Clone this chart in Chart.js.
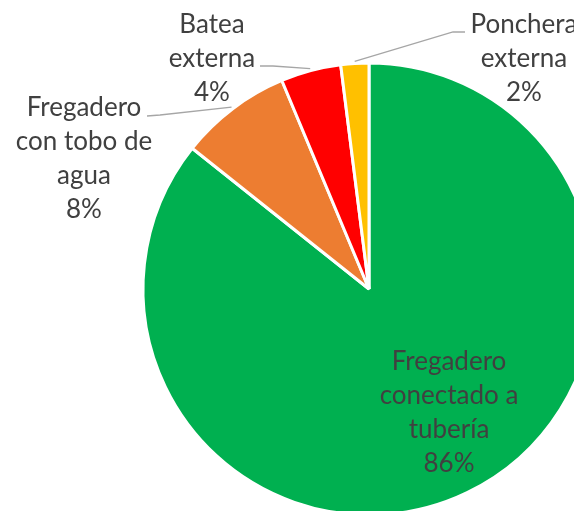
<!DOCTYPE html>
<html>
<head>
<meta charset="utf-8">
<script src="https://cdn.jsdelivr.net/npm/chart.js@4.4.1/dist/chart.umd.min.js"></script>
<style>
html, body { margin: 0; padding: 0; background: #ffffff; overflow: hidden; width: 574px; height: 511px; }
#wrap { position: absolute; left: 0; top: 0; width: 738px; height: 578px; }
</style>
</head>
<body>
<div id="wrap"><canvas id="c" width="738" height="578"></canvas></div>
<script>
// Data
const categories = [
  ["Fregadero", "conectado a", "tubería"],
  ["Fregadero", "con tobo de", "agua"],
  ["Batea", "externa"],
  ["Ponchera", "externa"]
];
const values = [85.7, 8.0, 4.3, 2.0];
const colors = ["#00B050", "#ED7D31", "#FF0000", "#FFC000"];

// Label layout (text block centers, first line) and leader line elbows
const labelLayout = [
  { x: 449, y: 362, inside: true },
  { x: 84, y: 108, elbow: [[147, 116], [160, 115]] },
  { x: 212, y: 25, elbow: [[260, 66], [273, 66]] },
  { x: 524, y: 25, elbow: [[465, 32], [453, 32]] }
];
const lineHeight = 34;
const fontSpec = '26px Lato, "Open Sans", sans-serif';

const total = values.reduce((a, b) => a + b, 0);

const labelPlugin = {
  id: 'pieLabels',
  afterDatasetsDraw(chart) {
    const ctx = chart.ctx;
    const meta = chart.getDatasetMeta(0);
    ctx.save();
    meta.data.forEach((arc, i) => {
      const lay = labelLayout[i];
      const pct = Math.round(values[i] / total * 100) + '%';
      const lines = categories[i].concat([pct]);
      if (lay.elbow) {
        const mid = (arc.startAngle + arc.endAngle) / 2;
        const r = arc.outerRadius + 2;
        const ex = arc.x + Math.cos(mid) * r;
        const ey = arc.y + Math.sin(mid) * r;
        ctx.strokeStyle = '#A6A6A6';
        ctx.lineWidth = 1.3;
        ctx.beginPath();
        ctx.moveTo(lay.elbow[0][0], lay.elbow[0][1]);
        ctx.lineTo(lay.elbow[1][0], lay.elbow[1][1]);
        ctx.lineTo(ex, ey);
        ctx.stroke();
      }
      ctx.fillStyle = '#404040';
      ctx.font = fontSpec;
      ctx.textAlign = 'center';
      ctx.textBaseline = 'middle';
      lines.forEach((t, k) => {
        ctx.fillText(t, lay.x, lay.y + k * lineHeight);
      });
    });
    ctx.restore();
  }
};

new Chart(document.getElementById('c'), {
  type: 'pie',
  data: {
    labels: categories.map(c => c.join(' ')),
    datasets: [{
      data: values,
      backgroundColor: colors,
      borderColor: '#ffffff',
      borderWidth: 3,
      radius: 226
    }]
  },
  options: {
    responsive: false,
    animation: false,
    layout: { padding: 0 },
    plugins: { legend: { display: false }, tooltip: { enabled: false } }
  },
  plugins: [labelPlugin]
});
</script>
</body>
</html>
